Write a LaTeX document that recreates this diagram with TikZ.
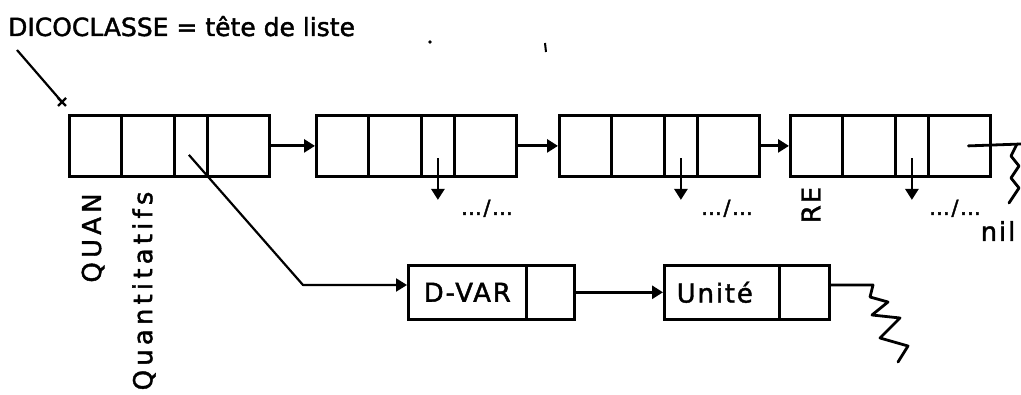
\documentclass[tikz,border=0pt]{standalone}
\usepackage{fontspec}
\newfontfamily\mac[LetterSpace=7,FakeBold=1.6]{DejaVu Sans}
\usetikzlibrary{arrows.meta}
\newcommand\mkrec[2]{%
  \node[cell, minimum width=52pt] (#1a) at (#2,114) {};
  \node[cell, minimum width=53pt] (#1b) at (#2+52,114) {};
  \node[cell, minimum width=33pt] (#1c) at (#2+105,114) {};
  \node[cell, minimum width=62pt] (#1d) at (#2+138,114) {};}
\begin{document}
\begin{tikzpicture}[x=1pt,y=-1pt,
  cell/.style={draw, line width=2.8pt, inner sep=0pt, minimum height=61pt, anchor=north west},
  box/.style={draw, line width=2.6pt, inner sep=0pt, minimum height=54pt, anchor=north west,
    font=\mac\fontsize{26}{30}\selectfont},
  arr/.style={line width=2.8pt, -{Triangle[length=11pt,width=13pt]}},
  wire/.style={line width=2.8pt, line join=round, line cap=round},
  lbl/.style={font=\mac\fontsize{26}{30}\selectfont, inner sep=0pt},
  dots/.style={font=\mac\fontsize{21}{24}\selectfont, inner sep=0pt, anchor=base}]
\useasboundingbox (0,0) rectangle (1021,395);

% title and pointer
\node[lbl, anchor=base west, font=\mac\fontsize{25}{30}\selectfont\addfontfeature{LetterSpace=0}]
  (title) at (8,36) {DICOCLASSE = tête de liste};
\coordinate (p0) at (17,50);
\coordinate (p1) at (62,102);
\draw[line width=2.2pt] (p0) -- (p1);
\draw[line width=2.2pt] ([shift={(-4,-4)}]p1) -- ([shift={(4,4)}]p1)
  ([shift={(-4,4)}]p1) -- ([shift={(4,-4)}]p1);
% stray marks
\fill (430,42) circle (1.8pt);
\draw[line width=2pt] (545,43) -- (546,52);

% records
\mkrec{ra}{68}
\mkrec{rb}{315}
\mkrec{rc}{558}
\mkrec{rd}{789}

\draw[arr] (rad.east) -- (rba.west);
\draw[arr] (rbd.east) -- (rca.west);
\draw[arr] (rcd.east) -- (rda.west);

% down arrows
\foreach \r in {rb,rc,rd}{
  \coordinate (\r down) at ([yshift=-54pt]\r c.center);
  \draw[arr] ([yshift=-12.5pt]\r c.center) -- (\r down);
}
\node[dots] (db) at (487,215) {…/…};
\node[dots] (dc) at (727,215) {…/…};
\node[dots] (dd) at (955,215) {…/…};

% labels under records
\node[lbl, rotate=90] (quan) at (93,238) {\addfontfeature{LetterSpace=16}QUAN};
\node[lbl, rotate=90] (quant) at (144,291) {\addfontfeature{LetterSpace=16}Quantitatifs};
\node[lbl, rotate=90] (re) at (811,205) {RE};
\node[lbl] (nil) at (998,231) {nil};

% nil line
\coordinate (z0) at (1017,144);
\draw[wire] ([xshift=9pt]rdd.center) -- (1021,144);
\draw[wire] (z0) -- (1011,156) -- (1019,166) -- (1011,178)
  -- (1019,188) -- (1009,203);

% second list
\node[box, minimum width=118pt] (dvar) at (407,264) {D-VAR};
\node[box, minimum width=48pt] (dvarp) at (525,264) {};
\node[box, minimum width=115pt] (unite) at (663,264) {Unité\hspace*{14pt}};
\node[box, minimum width=50pt] (unitep) at (778,264) {};

\coordinate (bend) at (303,285);
\draw[line width=2.2pt, line join=round, -{Triangle[length=11pt,width=13pt]}]
  ([shift={(-2,9)}]rac.center) -- (bend) -- (bend -| dvar.west);
\draw[arr] (dvarp.east) -- (unite.west);
\coordinate (u0) at (873,285);
\draw[wire] (unitep.east |- u0) -- (u0) -- (870,297) -- (888,302) -- (872,315) -- (900,318)
  -- (880,338) -- (908,346) -- (898,362);
\end{tikzpicture}
\end{document}
